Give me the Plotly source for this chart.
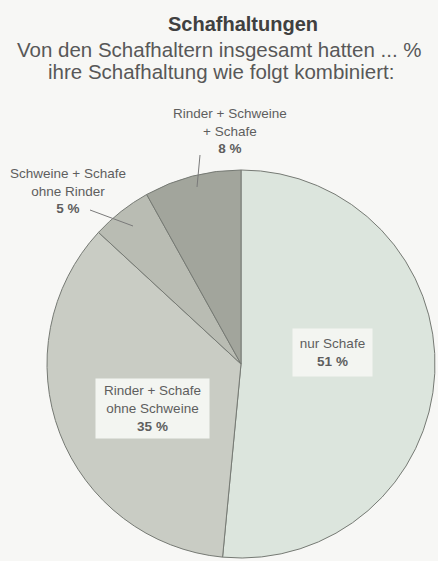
import plotly.graph_objects as go

# Shares of sheep farms by combination of livestock (percent)
categories = [
    "nur Schafe",
    "Rinder + Schafe ohne Schweine",
    "Schweine + Schafe ohne Rinder",
    "Rinder + Schweine + Schafe",
]
shares = [51, 35, 5, 8]
label_lines = [
    ["nur Schafe"],
    ["Rinder + Schafe", "ohne Schweine"],
    ["Schweine + Schafe", "ohne Rinder"],
    ["Rinder + Schweine", "+ Schafe"],
]
slice_colors = ["#dce5dd", "#c9ccc4", "#b9bcb3", "#a2a59c"]

FONT = "Liberation Sans, Arial, Helvetica, sans-serif"
TEXT_GRAY = "#5e5e5e"
BG = "#f7f7f5"


def label_text(i):
    return "<br>".join(label_lines[i]) + f"<br><b>{shares[i]} %</b>"


fig = go.Figure(
    go.Pie(
        labels=categories,
        values=shares,
        sort=False,
        direction="clockwise",
        rotation=0,
        marker=dict(colors=slice_colors, line=dict(color="#767a74", width=1)),
        textinfo="none",
        hoverinfo="label+value",
        showlegend=False,
        domain=dict(x=[0.1073, 0.9932], y=[0.0053, 0.6970]),
    )
)

annotations = [
    dict(text="<b>Schafhaltungen</b>", x=243, y=24,
         font=dict(size=20, color="#404040")),
    dict(text="Von den Schafhaltern insgesamt hatten ... %", x=219, y=50,
         font=dict(size=20.5, color="#585858")),
    dict(text="ihre Schafhaltung wie folgt kombiniert:", x=221, y=71,
         font=dict(size=20.5, color="#585858")),
    # labels outside the pie
    dict(text=label_text(3), x=230, y=131, font=dict(size=13.5, color=TEXT_GRAY)),
    dict(text=label_text(2), x=68, y=191, font=dict(size=13.5, color=TEXT_GRAY)),
    # labels inside the pie, on light boxes
    dict(text=label_text(0), x=332, y=352, font=dict(size=13.5, color=TEXT_GRAY),
         bgcolor="#f3f5f1", width=75, height=43, borderpad=2),
    dict(text=label_text(1), x=152, y=408, font=dict(size=13.5, color=TEXT_GRAY),
         bgcolor="#f3f5f1", width=109, height=55, borderpad=2),
]
for a in annotations:
    a.update(xref="paper", yref="paper", showarrow=False,
             xanchor="center", yanchor="middle")
    a["x"] = a["x"] / 438
    a["y"] = 1 - a["y"] / 561
    a["font"]["family"] = FONT

# leader lines from outside labels to their slices
leaders = [
    (200, 155, 197, 187),
    (90, 210, 133, 226),
]
shapes = [
    dict(type="line", xref="paper", yref="paper",
         x0=x0 / 438, y0=1 - y0 / 561, x1=x1 / 438, y1=1 - y1 / 561,
         line=dict(color="#7a7a7a", width=1))
    for x0, y0, x1, y1 in leaders
]

fig.update_layout(
    width=438,
    height=561,
    margin=dict(l=0, r=0, t=0, b=0),
    paper_bgcolor=BG,
    plot_bgcolor=BG,
    annotations=annotations,
    shapes=shapes,
    font=dict(family=FONT),
)

fig.write_html("out.html")
